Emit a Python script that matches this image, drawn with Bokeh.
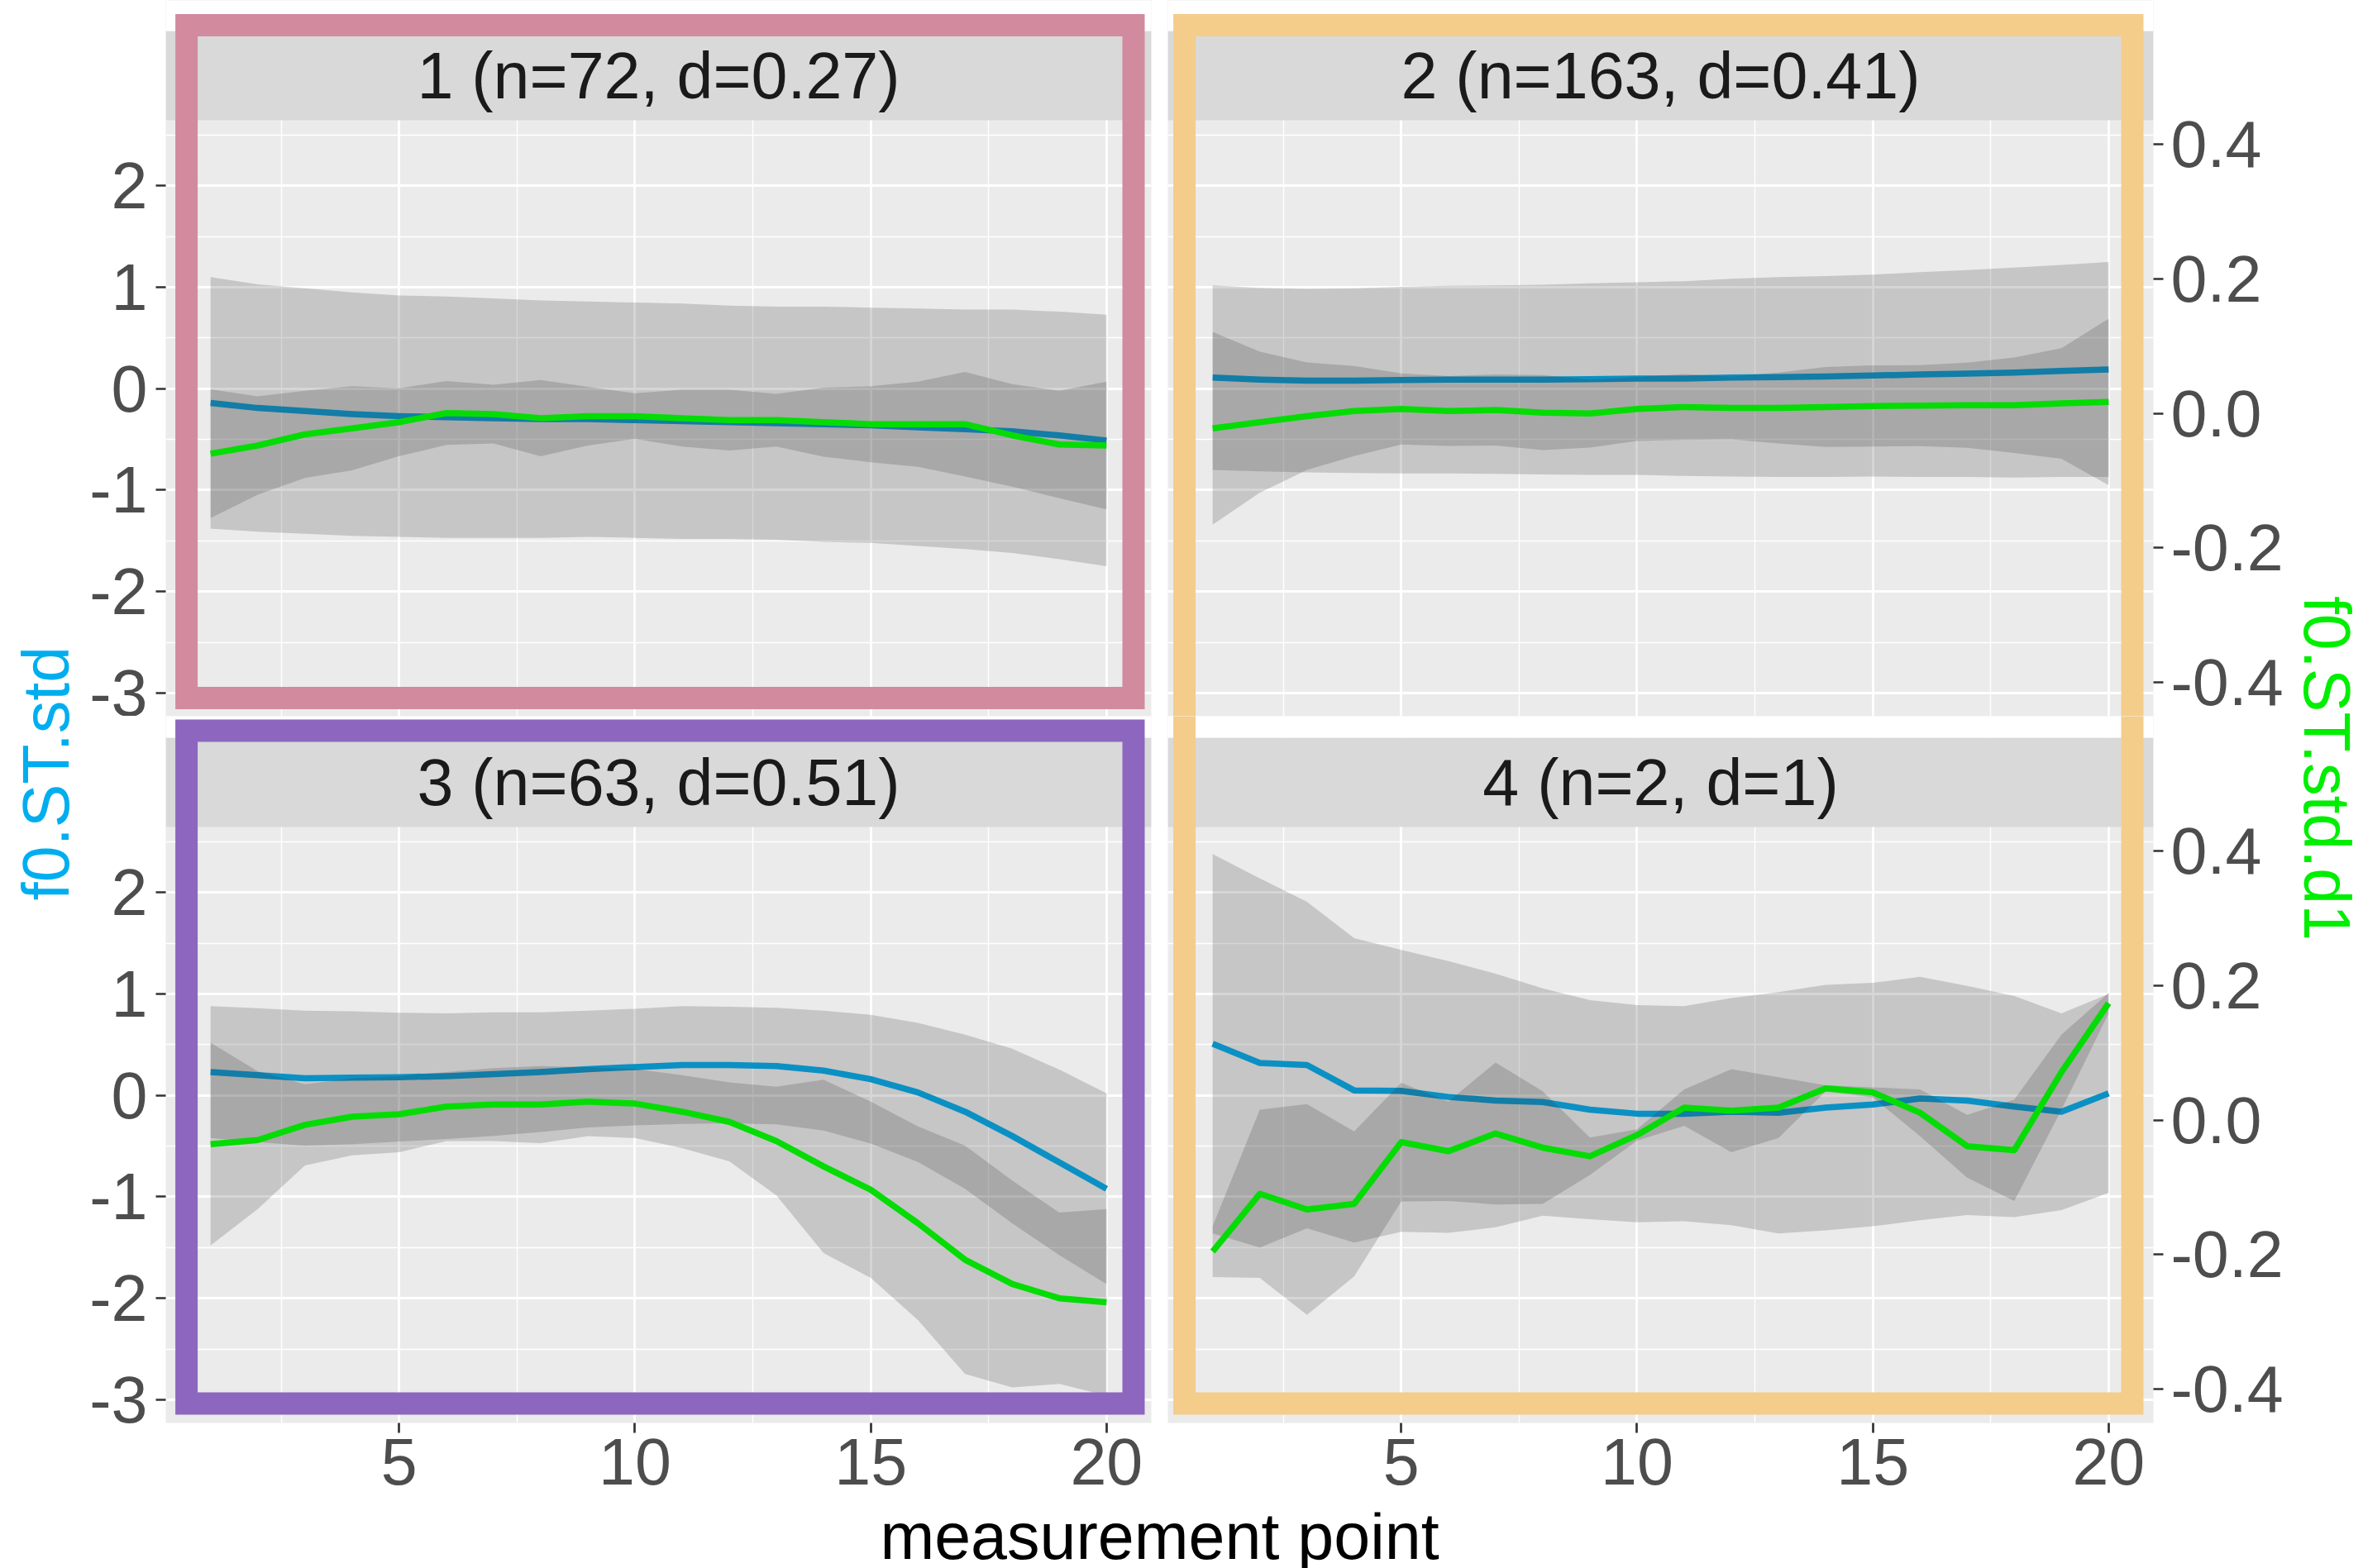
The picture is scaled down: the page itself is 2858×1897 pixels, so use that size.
import math
import numpy as np
from bokeh.plotting import figure
from bokeh.models import Range1d, LinearAxis, FixedTicker, PrintfTickFormatter
from bokeh.layouts import row, column
from bokeh.embed import file_html
from bokeh.resources import INLINE
from bokeh.core.properties import value

# ---------------- data ----------------
x = list(range(1, 21))

titles = ["1 (n=72, d=0.27)", "2 (n=163, d=0.41)", "3 (n=63, d=0.51)", "4 (n=2, d=1)"]

# f0.ST.std (left axis) mean and half-width of ribbon
blue_1 = [-0.14, -0.19, -0.22, -0.25, -0.27, -0.28, -0.29, -0.30, -0.30, -0.31,
          -0.32, -0.33, -0.34, -0.35, -0.36, -0.38, -0.40, -0.42, -0.46, -0.51]
blue_sd_1 = [1.24, 1.22, 1.21, 1.20, 1.19, 1.19, 1.18, 1.17, 1.16, 1.16,
             1.16, 1.15, 1.15, 1.16, 1.16, 1.17, 1.18, 1.20, 1.22, 1.24]
blue_2 = [0.11, 0.09, 0.08, 0.08, 0.085, 0.09, 0.09, 0.09, 0.095, 0.10,
          0.10, 0.11, 0.115, 0.12, 0.13, 0.14, 0.15, 0.16, 0.175, 0.19]
blue_sd_2 = [0.91, 0.905, 0.905, 0.91, 0.92, 0.925, 0.93, 0.935, 0.945, 0.95,
             0.96, 0.975, 0.985, 0.99, 0.995, 1.01, 1.02, 1.035, 1.045, 1.06]
blue_3 = [0.23, 0.20, 0.17, 0.175, 0.18, 0.19, 0.21, 0.23, 0.26, 0.28,
          0.30, 0.30, 0.29, 0.245, 0.16, 0.03, -0.16, -0.40, -0.66, -0.92]
blue_sd_3 = [0.65, 0.66, 0.665, 0.655, 0.635, 0.62, 0.61, 0.59, 0.575, 0.575,
             0.58, 0.575, 0.575, 0.59, 0.635, 0.685, 0.76, 0.86, 0.915, 0.94]
blue_4 = [0.51, 0.32, 0.30, 0.05, 0.045, -0.015, -0.05, -0.065, -0.14, -0.18,
          -0.18, -0.16, -0.17, -0.12, -0.09, -0.03, -0.05, -0.11, -0.16, 0.02]
blue_sd_4 = [1.87, 1.82, 1.61, 1.50, 1.39, 1.34, 1.25, 1.12, 1.08, 1.07,
             1.06, 1.12, 1.19, 1.21, 1.20, 1.20, 1.13, 1.09, 0.97, 0.98]

# f0.ST.std.d1 (right axis) mean and half-width of ribbon
green_1 = [-0.0599, -0.0478, -0.0312, -0.0222, -0.0131, 0.0005, -0.0011, -0.0071, -0.0041, -0.0041,
           -0.0071, -0.0101, -0.0101, -0.0131, -0.0161, -0.0161, -0.0161, -0.0327, -0.0463, -0.0478]
green_sd_1 = [0.0958, 0.0731, 0.0648, 0.0626, 0.0505, 0.0475, 0.0437, 0.0566, 0.0437, 0.0339,
              0.0422, 0.0452, 0.0392, 0.0513, 0.0566, 0.0633, 0.0777, 0.0762, 0.0799, 0.0950]
green_2 = [-0.0222, -0.0131, -0.0041, 0.0035, 0.0065, 0.0035, 0.0050, 0.0012, -0.0003, 0.0065,
           0.0095, 0.0080, 0.0080, 0.0095, 0.0110, 0.0115, 0.0121, 0.0121, 0.0148, 0.0170]
green_sd_2 = [0.1433, 0.1048, 0.0799, 0.0671, 0.0528, 0.0520, 0.0528, 0.0558, 0.0505, 0.0475,
              0.0490, 0.0467, 0.0528, 0.0596, 0.0603, 0.0603, 0.0633, 0.0709, 0.0822, 0.1237]
green_3 = [-0.0357, -0.0297, -0.0071, 0.0050, 0.0087, 0.0201, 0.0231, 0.0231, 0.0276, 0.0246,
           0.0125, -0.0026, -0.0312, -0.0689, -0.1036, -0.1534, -0.2077, -0.2438, -0.2650, -0.2710]
green_sd_3 = [0.1508, 0.1025, 0.0603, 0.0573, 0.0566, 0.0513, 0.0543, 0.0573, 0.0513, 0.0513,
              0.0543, 0.0588, 0.0807, 0.1289, 0.1312, 0.1440, 0.1697, 0.1538, 0.1274, 0.1387]
green_4 = [-0.1956, -0.1096, -0.1330, -0.1247, -0.0327, -0.0463, -0.0199, -0.0410, -0.0538, -0.0222,
           0.0185, 0.0140, 0.0185, 0.0472, 0.0412, 0.0110, -0.0388, -0.0448, 0.0713, 0.1739]
green_sd_4 = [0.0377, 0.1252, 0.1568, 0.1078, 0.0882, 0.0739, 0.1056, 0.0837, 0.0279, 0.0084,
              0.0271, 0.0618, 0.0452, 0.0045, 0.0075, 0.0347, 0.0467, 0.0754, 0.0558, 0.0151]

y_ticks = [-3, -2, -1, 0, 1, 2]
y_minor = [-2.5, -1.5, -0.5, 0.5, 1.5, 2.5]
d1_ticks = [-0.4, -0.2, 0.0, 0.2, 0.4]
x_ticks = [5, 10, 15, 20]
x_minor = [2.5, 7.5, 12.5, 17.5]

# ---------------- styling / layout ----------------
FONT = "Liberation Sans"
FS = "79px"
PANEL_W = 1192
PANEL_H = 721
XLO, XHI = 0.05, 20.95
YLO, YHI = -3.229, 2.647
XU = (XHI - XLO) / PANEL_W
YU = (YHI - YLO) / PANEL_H
D1_OFF, D1_SCALE = -0.243, 6.63
STRIP_H = 108
BOTTOM_BORDER = 108
BG = "#EBEBEB"
STRIP = "#D9D9D9"
RIB = "#333333"
RIB_A = 0.2
BLUE = "#0B90C4"
GREEN = "#05DC05"
LINE_W = 7.5
FRAME_W = 27
TOTAL_W, TOTAL_H = 2858, 1897
GRID_H = 866 + 855 + BOTTOM_BORDER

panels = [
    (titles[0], blue_1, blue_sd_1, green_1, green_sd_1),
    (titles[1], blue_2, blue_sd_2, green_2, green_sd_2),
    (titles[2], blue_3, blue_sd_3, green_3, green_sd_3),
    (titles[3], blue_4, blue_sd_4, green_4, green_sd_4),
]
# frame outer rectangles (pixels relative to data-frame left/top): left, right, top, bottom
frames = [
    ("#D28A9F", (11.6, 1184, 16.6, 857.4)),
    ("#F4CD8B", (6.6, 1180, 16.6, 1200)),
    ("#8C66BF", (11.6, 1184, 4.0, 845.0)),
    ("#F4CD8B", (6.6, 1180, -300, 845.0)),
]


def style_axis(ax):
    ax.axis_line_color = None
    ax.major_tick_line_color = "#333333"
    ax.major_tick_line_width = 2.7
    ax.major_tick_out = 12
    ax.major_tick_in = 0
    ax.minor_tick_line_color = None
    ax.major_label_text_font = FONT
    ax.major_label_text_font_size = FS
    ax.major_label_text_color = "#4D4D4D"


def make_panel(k):
    col = k % 2
    rw = k // 2
    left = col == 0
    top = rw == 0
    above = 145 if top else 134
    fh = PANEL_H + above
    ytop = YHI + above * YU
    mbl = 100 if left else 10
    mbr = 10 if left else 160
    mbb = 0 if top else BOTTOM_BORDER
    p = figure(width=mbl + PANEL_W + mbr, height=fh + mbb,
               x_range=Range1d(XLO, XHI), y_range=Range1d(YLO, ytop),
               x_axis_location=None if top else "below",
               y_axis_location="left" if left else None,
               min_border_left=mbl, min_border_right=mbr,
               min_border_top=0, min_border_bottom=mbb,
               title=None, output_backend="svg", toolbar_location=None, tools="")
    p.extra_y_ranges = {"d1": Range1d((YLO - D1_OFF) / D1_SCALE, (ytop - D1_OFF) / D1_SCALE)}
    p.background_fill_color = BG
    p.border_fill_color = "white"
    p.outline_line_color = None

    p.xgrid.ticker = FixedTicker(ticks=x_ticks, minor_ticks=x_minor)
    p.ygrid.ticker = FixedTicker(ticks=y_ticks, minor_ticks=y_minor)
    for g in (p.xgrid, p.ygrid):
        g.grid_line_color = "white"
        g.grid_line_width = 2.8
        g.minor_grid_line_color = "white"
        g.minor_grid_line_width = 1.4

    if left:
        ax = p.yaxis[0]
        ax.ticker = FixedTicker(ticks=y_ticks)
        ax.formatter = PrintfTickFormatter(format="%d")
        style_axis(ax)
        ax.major_label_standoff = 10
    else:
        ax = LinearAxis(y_range_name="d1", ticker=FixedTicker(ticks=d1_ticks),
                        formatter=PrintfTickFormatter(format="%.1f"))
        style_axis(ax)
        ax.major_label_standoff = 9
        p.add_layout(ax, "right")
    if not top:
        ax = p.xaxis[0]
        ax.ticker = FixedTicker(ticks=x_ticks)
        ax.formatter = PrintfTickFormatter(format="%d")
        style_axis(ax)
        ax.major_label_standoff = 7

    title, blue, blue_sd, green, green_sd = panels[k]
    b = np.array(blue)
    bs = np.array(blue_sd)
    g = np.array(green)
    gs = np.array(green_sd)

    # strip and white margin above it
    strip_top = YHI + STRIP_H * YU
    p.quad(left=[XLO], right=[XHI], bottom=[YHI], top=[strip_top],
           fill_color=STRIP, line_color=None)
    p.quad(left=[XLO], right=[XHI], bottom=[strip_top], top=[ytop],
           fill_color="white", line_color=None)

    p.varea(x=x, y1=b - bs, y2=b + bs, fill_color=RIB, fill_alpha=RIB_A)
    p.line(x, b, line_color=BLUE, line_width=LINE_W, line_join="round")
    p.varea(x=x, y1=g - gs, y2=g + gs, fill_color=RIB, fill_alpha=RIB_A, y_range_name="d1")
    p.line(x, g, line_color=GREEN, line_width=LINE_W, line_join="round", y_range_name="d1")

    p.text(x=[(XLO + XHI) / 2], y=[YHI + STRIP_H / 2 * YU], text=[title],
           text_align="center", text_baseline="middle",
           text_font=value(FONT), text_font_size=value(FS), text_color="#1A1A1A")

    color, (fl, fr, ft, fb) = frames[k]
    h = FRAME_W / 2
    p.quad(left=[XLO + (fl + h) * XU], right=[XLO + (fr - h) * XU],
           top=[ytop - (ft + h) * YU], bottom=[ytop - (fb - h) * YU],
           fill_color=None, line_color=color, line_width=FRAME_W, line_join="miter")
    return p


def text_fig(w, h, txt, tx, ty, angle, color):
    # tx, ty: anchor (centre of the text box) in pixels from this figure's left / bottom edge
    p = figure(width=w, height=h, x_range=Range1d(0, w), y_range=Range1d(0, h),
               x_axis_location=None, y_axis_location=None, min_border=0,
               title=None, output_backend="svg", toolbar_location=None, tools="")
    p.grid.visible = False
    p.outline_line_color = None
    p.background_fill_color = "white"
    p.border_fill_color = "white"
    p.text(x=[tx], y=[ty], text=[txt], angle=angle, text_align="center",
           text_baseline="middle", text_font=value(FONT),
           text_font_size=value(FS), text_color=color)
    return p


p1, p2, p3, p4 = [make_panel(k) for k in range(4)]
grid = column(row(p1, p2), row(p3, p4))
right_w = TOTAL_W - 100 - 1302 - 1362
left_title = text_fig(100, GRID_H, "f0.ST.std", 55, GRID_H - 935, math.pi / 2, "#00AEEF")
right_title = text_fig(right_w, GRID_H, "f0.ST.std.d1", 2814 - (TOTAL_W - right_w), GRID_H - 929,
                       -math.pi / 2, "#00EE00")
xt_h = TOTAL_H - GRID_H
x_title = text_fig(TOTAL_W, xt_h, "measurement point", 1402, TOTAL_H - 1858, 0, "#000000")

layout = column(row(left_title, grid, right_title), x_title)

open("out.html", "w").write(file_html(layout, INLINE))
